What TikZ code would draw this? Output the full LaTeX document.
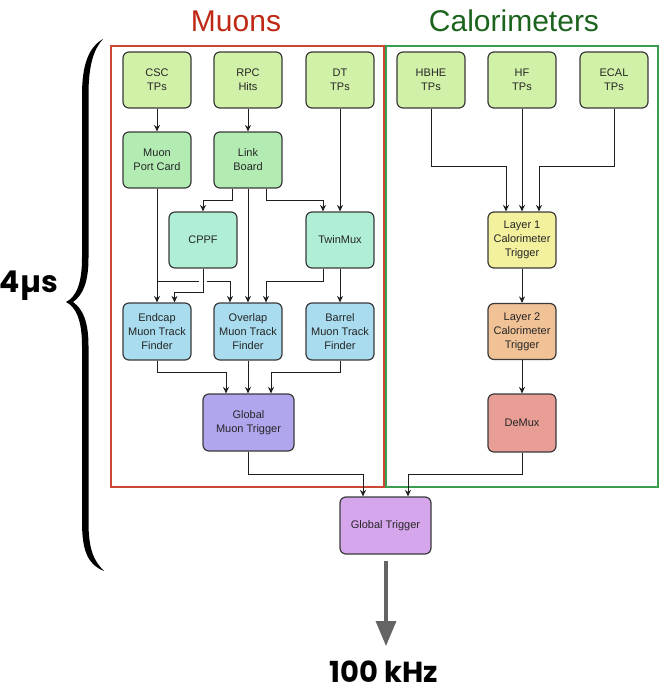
\documentclass[tikz,border=0pt]{standalone}
\usepackage{fontspec}
\setmainfont{Liberation Sans}
\newfontfamily\bigfont{Poppins}
\usetikzlibrary{arrows.meta}

\definecolor{tpgreen}{RGB}{209,240,168}
\definecolor{midgreen}{RGB}{178,236,178}
\definecolor{mint}{RGB}{176,238,214}
\definecolor{tfblue}{RGB}{168,220,238}
\definecolor{gmtpurple}{RGB}{176,166,238}
\definecolor{gtviolet}{RGB}{214,166,236}
\definecolor{lonecol}{RGB}{243,240,158}
\definecolor{ltwocol}{RGB}{240,194,150}
\definecolor{demuxcol}{RGB}{232,158,148}
\definecolor{muonred}{RGB}{204,72,52}
\definecolor{muontext}{RGB}{190,40,20}
\definecolor{calogreen}{RGB}{58,158,80}
\definecolor{calotext}{RGB}{28,100,30}
\definecolor{edge}{RGB}{58,58,58}
\definecolor{wire}{RGB}{30,30,30}
\definecolor{outgray}{RGB}{100,100,100}

\tikzset{
  block/.style={draw=edge, line width=1.2pt, rounded corners=6pt,
    minimum width=68pt, minimum height=56pt, inner sep=0pt,
    align=center, font=\fontsize{11}{14}\selectfont, text=black!85},
  wideblock/.style={block, minimum width=91pt, minimum height=57pt},
  conn/.style={draw=wire, line width=0.9pt,
    -{Stealth[length=6.5pt,width=6pt]}},
  plainconn/.style={draw=wire, line width=0.9pt},
  groupframe/.style={line width=1.3pt},
}

\begin{document}
\begin{tikzpicture}[x=1pt,y=-1pt]
\useasboundingbox (0,0) rectangle (664,693);

% group frames and titles
\draw[groupframe, draw=muonred] (111,46) rectangle (384,487);
\draw[groupframe, draw=calogreen] (386,46) rectangle (658,487);
\node[text=muontext, font=\fontsize{30}{34}\selectfont] (muontitle) at (236,21) {Muons};
\node[text=calotext, font=\fontsize{30}{34}\selectfont] (calotitle) at (514,21) {Calorimeters};

% muon chain
\node[block, fill=tpgreen] (csc) at (157,80) {CSC\\TPs};
\node[block, fill=tpgreen] (rpc) at (248,80) {RPC\\Hits};
\node[block, fill=tpgreen] (dt)  at (340,80) {DT\\TPs};
\node[block, fill=midgreen] (mpc)  at (157,160) {Muon\\Port Card};
\node[block, fill=midgreen] (link) at (248,160) {Link\\Board};
\node[block, fill=mint] (cppf) at (203,240) {CPPF};
\node[block, fill=mint] (twin) at (340,240) {TwinMux};
\node[block, fill=tfblue, minimum height=57pt] (endcap)  at (157,331.5) {Endcap\\Muon Track\\Finder};
\node[block, fill=tfblue, minimum height=57pt] (overlap) at (248,331.5) {Overlap\\Muon Track\\Finder};
\node[block, fill=tfblue, minimum height=57pt] (barrel)  at (340,331.5) {Barrel\\Muon Track\\Finder};
\node[wideblock, fill=gmtpurple] (gmt) at (248.5,422.5) {Global\\Muon Trigger};

% calorimeter chain
\node[block, fill=tpgreen] (hbhe) at (431,80) {HBHE\\TPs};
\node[block, fill=tpgreen] (hf)   at (522,80) {HF\\TPs};
\node[block, fill=tpgreen] (ecal) at (614,80) {ECAL\\TPs};
\node[block, fill=lonecol]  (lone)  at (522,240) {Layer 1\\Calorimeter\\Trigger};
\node[block, fill=ltwocol]  (ltwo)  at (522,331.5) {Layer 2\\Calorimeter\\Trigger};
\node[block, fill=demuxcol, minimum height=58pt] (demux) at (522,423) {DeMux};

% final stage
\node[wideblock, fill=gtviolet] (gt) at (385.5,525.5) {Global Trigger};
\coordinate (rateout) at (386,646);
\node[anchor=base, inner sep=0pt, font=\bigfont\bfseries\fontsize{29}{32}\selectfont] (rate) at (384,682) {100 kHz};
\node[font=\bigfont\bfseries\fontsize{30}{34}\selectfont] (latency) at (29,286) {4µs};

% helper level for the crossing branch
\coordinate (ybranch) at (0,281);

% muon connections
\draw[conn] (csc) -- (mpc);
\draw[conn] (rpc) -- (link);
\draw[conn] (dt) -- (twin);
\draw[conn] ([xshift=-16]link.south) -- ++(0,12) -| (cppf.north);
\draw[conn] (link.south) -- (overlap.north);
\draw[conn] ([xshift=18]link.south) -- ++(0,12) -| ([xshift=-17]twin.north);
\draw[conn] (mpc.south) -- (endcap.north);
\draw[plainconn] (mpc.south |- ybranch) -- ([xshift=-4]cppf.south |- ybranch);
\draw[conn] ([xshift=4]cppf.south |- ybranch) -| ([xshift=-18]overlap.north);
\draw[conn] (cppf.south) -- ++(0,24) -| ([xshift=17.5]endcap.north);
\draw[conn] ([xshift=-17]twin.south) -- ++(0,13) -| ([xshift=18]overlap.north);
\draw[conn] (twin.south) -- (barrel.north);
\draw[conn] (endcap.south) -- ++(0,12) -| ([xshift=-22.5]gmt.north);
\draw[conn] (overlap.south) -- (overlap.south |- gmt.north);
\draw[conn] (barrel.south) -- ++(0,12) -| ([xshift=22.5]gmt.north);
\draw[conn] (gmt.south) -- ++(0,23) -| ([xshift=-22.5]gt.north);

% calorimeter connections
\draw[conn] (hbhe.south) -- ++(0,58) -| ([xshift=-16]lone.north);
\draw[conn] (hf) -- (lone);
\draw[conn] (ecal.south) -- ++(0,58) -| ([xshift=17]lone.north);
\draw[conn] (lone) -- (ltwo);
\draw[conn] (ltwo) -- (demux);
\draw[conn] (demux.south) -- ++(0,22) -| ([xshift=22.5]gt.north);

% output rate arrow
\draw[draw=outgray, line width=3.4pt, shorten <=6pt,
      -{Triangle[length=25pt,width=20pt,fill=outgray]}]
  (gt.south -| rateout) -- (rateout);

% latency brace
\fill[black]
  (103,39) .. controls (89,47) and (82,64) .. (82,95)
  -- (82,258) .. controls (82,284) and (76,297) .. (66,302)
  .. controls (76,307) and (82,320) .. (82,346)
  -- (82,522) .. controls (82,553) and (89,565) .. (104,571)
  .. controls (94,561) and (88.5,550) .. (88.5,522)
  -- (88.5,346) .. controls (88.5,322) and (83,309) .. (73,302)
  .. controls (83,295) and (88.5,282) .. (88.5,258)
  -- (88.5,95) .. controls (88.5,64) and (94,49) .. (103,39) -- cycle;
\end{tikzpicture}
\end{document}
